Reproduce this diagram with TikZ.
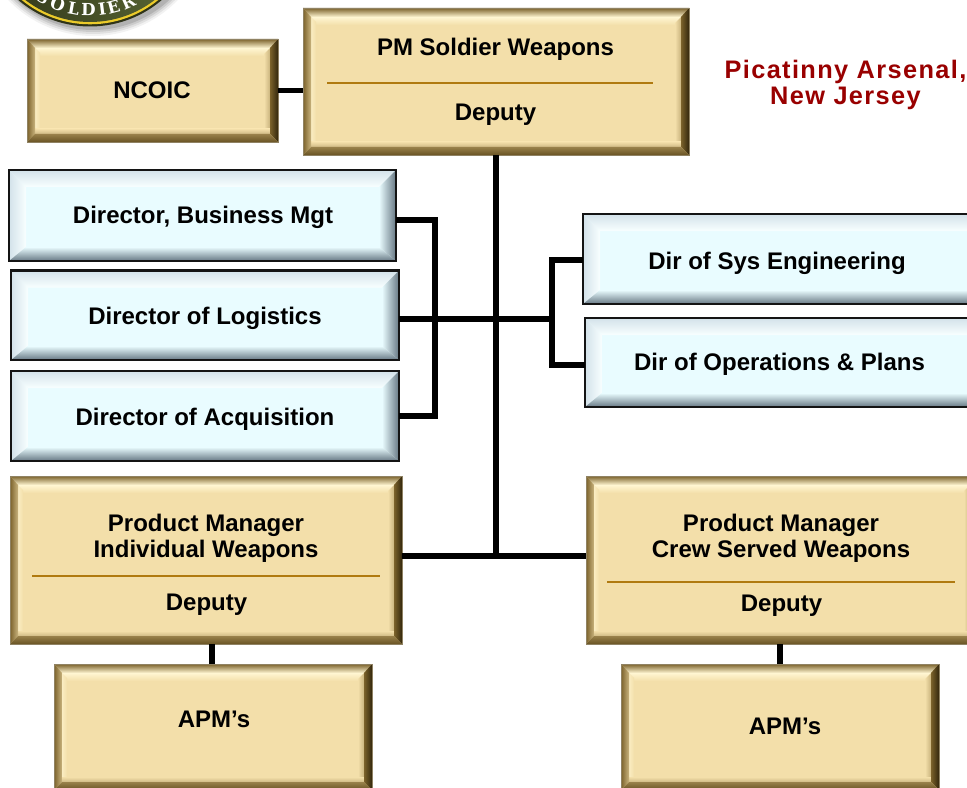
\documentclass[tikz,border=0pt]{standalone}
\usepackage{fontspec}
\setmainfont{Liberation Sans}
\newfontfamily\redfont[LetterSpace=5.5]{Liberation Sans}
\newfontfamily\emblemfont{DejaVu Serif}
\usetikzlibrary{calc}
\definecolor{tanface}{HTML}{F3DFAA}
\definecolor{tancream}{HTML}{FFF6D2}
\definecolor{tandark}{HTML}{7B622B}
\definecolor{tanblack}{HTML}{33270C}
\definecolor{tanedge}{HTML}{8F8263}
\definecolor{bluface}{HTML}{E9FCFF}
\definecolor{blulight}{HTML}{F8FFFF}
\definecolor{blumid}{HTML}{D3E2EA}
\definecolor{bludark}{HTML}{667783}
\definecolor{darkred}{HTML}{990000}
\definecolor{rulecol}{HTML}{B07A10}
\definecolor{olive}{HTML}{5C6A36}
\definecolor{olivedark}{HTML}{2E3318}
\definecolor{ringyellow}{HTML}{EBCB2A}
\tikzset{
  x=0.75pt,y=-0.75pt,
  boxnode/.style={rectangle,inner sep=0pt,outer sep=0pt},
  lbl/.style={font=\fontsize{18}{19.5}\selectfont\bfseries,text=black,align=center,inner sep=0pt},
  redlbl/.style={font=\fontsize{19}{19.5}\selectfont\bfseries\redfont,text=darkred,align=center,inner sep=0pt},
  wire/.style={draw=black,line width=4.1pt,line join=miter},
  rulestyle/.style={draw=rulecol,line width=1.1pt},
  emblemletter/.style={font=\fontsize{12.5}{13}\selectfont\bfseries\emblemfont,text=white,inner sep=0pt}
}
% name,x1,y1,x2,y2
\newcommand\tanbox[5]{%
  \node[boxnode,fill=tanface,minimum width={(#4-#2)*0.75pt},minimum height={(#5-#3)*0.75pt}] (#1) at ({(#2+#4)/2},{(#3+#5)/2}) {};
  \path[shade,top color=tancream,bottom color=tanface] (#2+8,#3+9) rectangle (#4-8,#3+17);
  \path[shade,left color=tancream!60!tanface,right color=tanface] (#2+8,#3+9) -- (#2+13,#3+14) -- (#2+13,#5-13) -- (#2+8,#5-8) -- cycle;
  \path[shade,left color=tanface,right color=tanface!65!tandark] (#4-14,#3+15) -- (#4-8,#3+9) -- (#4-8,#5-8) -- (#4-14,#5-14) -- cycle;
  \path[shade,top color=tanface,bottom color=tanface!70!tandark] (#2+8,#5-13) -- (#4-8,#5-13) -- (#4-8,#5-8) -- (#2+8,#5-8) -- cycle;
  \path[shade,top color=tandark,bottom color=tancream] (#2,#3) -- (#4,#3) -- (#4-8,#3+9) -- (#2+8,#3+9) -- cycle;
  \path[shade,left color=tandark,right color=tanface!65!tandark] (#2,#3) -- (#2+8,#3+9) -- (#2+8,#5-8) -- (#2,#5) -- cycle;
  \path[shade,left color=tandark,right color=tanblack] (#4,#3) -- (#4,#5) -- (#4-8,#5-8) -- (#4-8,#3+9) -- cycle;
  \path[shade,top color=tandark!75!tanface,bottom color=tandark!85!black] (#2,#5) -- (#2+8,#5-8) -- (#4-8,#5-8) -- (#4,#5) -- cycle;
  \draw[tanedge,line width=0.6pt] (#2,#3) rectangle (#4,#5);
}
\newcommand\blubox[5]{%
  \node[boxnode,fill=bluface,minimum width={(#4-#2)*0.75pt},minimum height={(#5-#3)*0.75pt}] (#1) at ({(#2+#4)/2},{(#3+#5)/2}) {};
  \path[shade,top color=blumid,bottom color=blulight] (#2,#3) -- (#4,#3) -- (#4-17,#3+17) -- (#2+17,#3+17) -- cycle;
  \path[shade,left color=blumid,right color=blulight] (#2,#3) -- (#2+17,#3+17) -- (#2+17,#5-14) -- (#2,#5) -- cycle;
  \path[shade,left color=bluface,right color=bludark] (#4,#3) -- (#4,#5) -- (#4-17,#5-14) -- (#4-17,#3+17) -- cycle;
  \path[shade,top color=bluface,bottom color=bludark] (#2,#5) -- (#2+17,#5-14) -- (#4-17,#5-14) -- (#4,#5) -- cycle;
  \draw[black!92,line width=2pt] (#2,#3) rectangle (#4,#5);
}
\begin{document}
\begin{tikzpicture}
\useasboundingbox (0,0) rectangle (967,788);
\fill[white] (0,0) rectangle (967,788);
\clip (0,0) rectangle (967,788);
% emblem
\coordinate (emb) at (90,-84);
\foreach \r/\o in {118/0.05,116/0.07,114/0.09,112/0.12}{\fill[black,opacity=\o] (emb) ++(3,2) circle (\r);}
\fill[olivedark] (emb) circle (110.5);
\fill[ringyellow] (emb) circle (108.3);
\path[shade,left color=olivedark,right color=olive] (emb) circle (106);
\foreach \i/\c/\a in {1/S/120,2/O/110,3/L/100,4/D/91,5/I/82.6,6/E/75.5,7/R/66}{
  \node[emblemletter,rotate={90-\a}] (letter\i) at ($(emb)+({94*cos(\a)},{94*sin(\a)})$) {\c};
}
% boxes
\tanbox{ncoic}{27}{39}{278}{142}
\tanbox{pm}{303}{8}{689}{155}
\blubox{bus}{9}{170}{396}{261}
\blubox{log}{11}{270.5}{399}{360}
\blubox{acq}{11}{371}{399}{461}
\blubox{sys}{583}{214}{985}{304}
\blubox{ops}{585}{318}{985}{407}
\tanbox{ind}{10}{476}{402}{644}
\tanbox{crew}{586}{476}{978}{644}
\tanbox{apmL}{54}{664}{372}{790}
\tanbox{apmR}{621}{664}{939}{790}
% rules
\coordinate (rpmA) at (327,83); \coordinate (rpmB) at (653,83);
\coordinate (rinA) at (32,576); \coordinate (rinB) at (380,576);
\coordinate (rcrA) at (607,582); \coordinate (rcrB) at (955,582);
\draw[rulestyle] (rpmA) -- (rpmB);
\draw[rulestyle] (rinA) -- (rinB);
\draw[rulestyle] (rcrA) -- (rcrB);
% junction coordinates
\coordinate (jmid) at (496,319);
\coordinate (jlow) at (496,556);
\coordinate (jL) at (435,319);
\coordinate (jR) at (552,319);
\coordinate (ybus) at (0,220);
\coordinate (yacq) at (0,416);
\coordinate (ysys) at (0,260);
\coordinate (yops) at (0,365);
\coordinate (xapmL) at (212,0);
\coordinate (xapmR) at (780,0);
% connectors
\draw[wire] (ncoic.east) -- (pm.west |- ncoic.east);
\draw[wire] (pm.south) -- (jlow);
\draw[wire] (ind.east |- jlow) -- (crew.west |- jlow);
\draw[wire] (log.east |- jmid) -- (jR);
\draw[wire] (bus.east |- ybus) -- (jL |- ybus) -- (jL |- yacq) -- (acq.east |- yacq);
\draw[wire] (sys.west |- ysys) -- (jR |- ysys) -- (jR |- yops) -- (ops.west |- yops);
\draw[wire] (ind.south -| xapmL) -- (apmL.north -| xapmL);
\draw[wire] (crew.south -| xapmR) -- (apmR.north -| xapmR);
% labels
\node[lbl] (tncoic) at (152,90) {NCOIC};
\node[lbl] (tpm) at (495.5,49) {PM Soldier Weapons};
\node[lbl] (tpmd) at (495.5,115) {Deputy};
\node[redlbl] (tpic) at (845.5,84.5) {Picatinny Arsenal,\\New Jersey};
\node[lbl] (tbus) at (203,217) {Director, Business Mgt};
\node[lbl] (tlog) at (205,318) {Director of Logistics};
\node[lbl] (tacq) at (205,419) {Director of Acquisition};
\node[lbl] (tsys) at (777,263) {Dir of Sys Engineering};
\node[lbl] (tops) at (779.5,364) {Dir of Operations \& Plans};
\node[lbl] (tind) at (206,538) {Product Manager\\Individual Weapons};
\node[lbl] (tindd) at (206.5,605) {Deputy};
\node[lbl] (tcrew) at (781,538.5) {Product Manager\\Crew Served Weapons};
\node[lbl] (tcrewd) at (781.5,606) {Deputy};
\node[lbl] (tapmL) at (214,719) {APM’s};
\node[lbl] (tapmR) at (785,726) {APM’s};
\end{tikzpicture}
\end{document}
